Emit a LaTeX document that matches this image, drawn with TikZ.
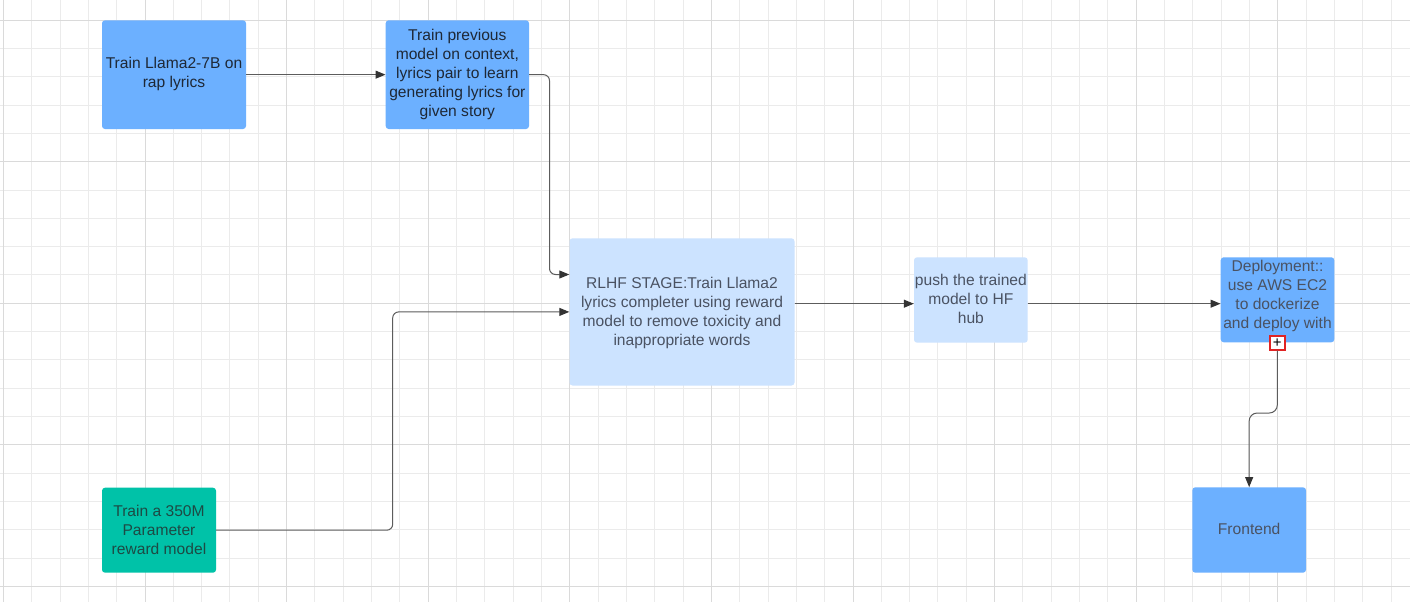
\documentclass[tikz,border=0pt]{standalone}
\usepackage{fontspec}
\setmainfont{Liberation Sans}
\usetikzlibrary{arrows.meta,calc}
\definecolor{gridminor}{HTML}{EBEBEB}
\definecolor{gridmajor}{HTML}{DADADA}
\definecolor{bluebox}{HTML}{6CB0FF}
\definecolor{lightbox}{HTML}{CCE3FF}
\definecolor{tealbox}{HTML}{00C2A8}
\definecolor{darktext}{HTML}{1E2836}
\definecolor{graytext}{HTML}{4A5262}
\definecolor{tealtext}{HTML}{1D4A44}
\definecolor{conncol}{HTML}{5C5C5C}
\definecolor{arrowcol}{HTML}{333333}
\definecolor{handlered}{HTML}{E02424}
\begin{document}
\begin{tikzpicture}[x=1pt,y=-1pt,
  boxshape/.style={rectangle, rounded corners=3pt, inner sep=0pt, draw=none},
  txt/.style={inner sep=0pt, align=center, font=\fontsize{15.6}{19}\selectfont},
  conn/.style={draw=conncol, line width=1pt, rounded corners=6pt},
  arr/.style={conn, -{Triangle[length=10pt,width=8pt,color=arrowcol,fill=arrowcol]}},
  gridmin/.style={draw=gridminor, line width=1pt},
  gridmaj/.style={draw=gridmajor, line width=1pt},
]
\useasboundingbox (0,0) rectangle (1410,602);
\fill[white] (0,0) rectangle (1410,602);
% grid
\foreach \i in {0,...,49} {\pgfmathsetmacro\gx{3.4+28.32*\i}\draw[gridmin] (\gx,0) -- (\gx,602);}
\foreach \j in {0,...,20} {\pgfmathsetmacro\gy{20.1+28.32*\j}\draw[gridmin] (0,\gy) -- (1410,\gy);}
\foreach \i in {0,5,...,45} {\pgfmathsetmacro\gx{3.4+28.32*\i}\draw[gridmaj] (\gx,0) -- (\gx,602);}
\foreach \j in {0,5,...,20} {\pgfmathsetmacro\gy{20.1+28.32*\j}\draw[gridmaj] (0,\gy) -- (1410,\gy);}

% boxes
\node[boxshape, fill=bluebox, minimum width=144pt, minimum height=108.7pt] (b1) at (174,74.65) {};
\node[boxshape, fill=bluebox, minimum width=143.3pt, minimum height=108.7pt] (b2) at (457.35,74.65) {};
\node[boxshape, fill=lightbox, minimum width=225pt, minimum height=147.2pt] (rl) at (682,311.9) {};
\node[boxshape, fill=lightbox, minimum width=113.7pt, minimum height=85.4pt] (ph) at (970.85,300) {};
\node[boxshape, fill=bluebox, minimum width=113.6pt, minimum height=85pt] (dp) at (1277.5,299.8) {};
\node[boxshape, fill=bluebox, minimum width=113.7pt, minimum height=85.4pt] (fe) at (1249.15,530) {};
\node[boxshape, fill=tealbox, minimum width=114pt, minimum height=85pt] (rw) at (159,530.2) {};

% texts
\node[txt, text=darktext] (b1t) at ([yshift=1pt]b1.center) {Train Llama2-7B on\\rap lyrics};
\node[txt, text=darktext] (b2t) at ([yshift=0pt]b2.center) {Train previous\\model on context,\\lyrics pair to learn\\generating lyrics for\\given story};
\node[txt, text=graytext] (rlt) at ([yshift=-1.5pt]rl.center) {RLHF STAGE:Train Llama2\\lyrics completer using reward\\model to remove toxicity and\\inappropriate words};
\node[txt, text=graytext] (pht) at ([yshift=0.7pt]ph.center) {push the trained\\model to HF\\hub};
\node[txt, text=graytext] (dpt) at ([yshift=4pt]dp.center) {Deployment::\\use AWS EC2\\to dockerize\\and deploy with};
\node[txt, text=graytext] (fet) at ([yshift=1pt]fe.center) {Frontend};
\node[txt, text=tealtext] (rwt) at ([yshift=0.4pt]rw.center) {Train a 350M\\Parameter\\reward model};

% handle
\node[draw=handlered, line width=1.6pt, fill=white, minimum width=15pt, minimum height=14pt, inner sep=0pt, font=\fontsize{15}{15}\selectfont] (plus) at (1277.3,342.7) {+};

% connectors
\draw[arr] (b1.east) -- (b2.west);
\coordinate (rlin) at ($(rl.west)+(0,-37.4)$);
\draw[arr] (b2.east) -- ++(20.3,0) |- (rlin);
\draw[arr] (rw.east) -- ++(176.5,0) |- (rl.west);
\coordinate (lvl) at (0,303.7);
\draw[arr] (rl.east |- lvl) -- (ph.west |- lvl);
\draw[arr] (ph.east |- lvl) -- (dp.west |- lvl);
\coordinate (bend) at (1277.3,413);
\draw[arr, rounded corners=8pt] (plus.south) -- (bend) -| (fe.north);
\end{tikzpicture}
\end{document}
